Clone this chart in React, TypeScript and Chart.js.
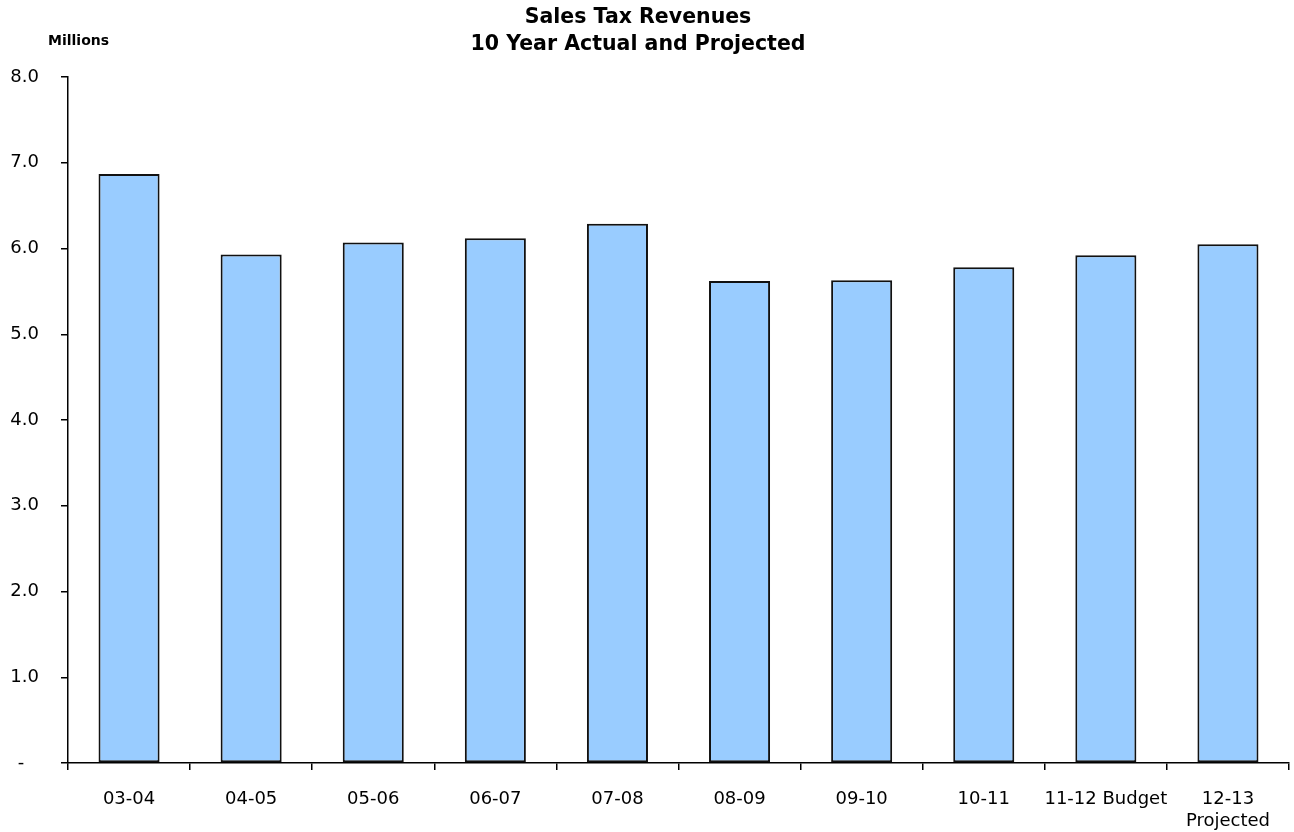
import React, { useEffect, useRef } from "react";
import { Chart, registerables } from "chart.js";

Chart.register(...registerables);

// Fiscal years shown along the bottom axis
const categories: (string | string[])[] = [
  "03-04",
  "04-05",
  "05-06",
  "06-07",
  "07-08",
  "08-09",
  "09-10",
  "10-11",
  "11-12 Budget",
  ["12-13", "Projected"],
];

// Sales tax revenue, in millions
const revenues: number[] = [6.87, 5.93, 6.07, 6.12, 6.29, 5.62, 5.63, 5.78, 5.92, 6.05];

const titleLines: string[] = ["Sales Tax Revenues", "10 Year Actual and Projected"];
const unitLabel = "Millions";

const FONT = "'DejaVu Sans', Verdana, sans-serif";

// Draws the two-line heading and the unit caption above the value axis
const headingPlugin = {
  id: "heading",
  afterDraw(chart: Chart) {
    const ctx = chart.ctx;
    ctx.save();
    ctx.fillStyle = "#000";
    ctx.textAlign = "center";
    ctx.textBaseline = "middle";
    ctx.font = `bold 20.5px ${FONT}`;
    ctx.fillText(titleLines[0], 638, 18);
    ctx.fillText(titleLines[1], 638, 45);
    ctx.textAlign = "left";
    ctx.font = `bold 14px ${FONT}`;
    ctx.fillText(unitLabel, 48, 41);
    ctx.restore();
  },
};

export default function App() {
  const canvasRef = useRef<HTMLCanvasElement | null>(null);

  useEffect(() => {
    const canvas = canvasRef.current;
    if (!canvas) return;
    const chart = new Chart(canvas, {
      type: "bar",
      data: {
        labels: categories,
        datasets: [
          {
            data: revenues,
            backgroundColor: "#99CCFF",
            borderColor: "#111111",
            borderWidth: 2,
            borderSkipped: false,
            barPercentage: 0.5,
            categoryPercentage: 1,
          },
        ],
      },
      options: {
        responsive: false,
        animation: false,
        layout: { padding: { top: 77, right: 5, left: 0, bottom: 0 } },
        plugins: {
          legend: { display: false },
          title: { display: false },
          tooltip: { enabled: false },
        },
        scales: {
          x: {
            offset: true,
            grid: {
              offset: true,
              drawOnChartArea: false,
              drawTicks: true,
              tickLength: 7,
              color: "#000",
              lineWidth: 1.5,
            },
            border: { display: true, color: "#000", width: 1.5 },
            ticks: {
              color: "#000",
              font: { family: FONT, size: 18 },
              padding: 19,
              maxRotation: 0,
              autoSkip: false,
            },
            afterFit(scale: any) {
              scale.height = 69;
            },
          },
          y: {
            min: 0,
            max: 8,
            grid: {
              drawOnChartArea: false,
              drawTicks: true,
              tickLength: 7,
              color: "#000",
              lineWidth: 1.5,
            },
            border: { display: true, color: "#000", width: 1.5 },
            ticks: {
              stepSize: 1,
              color: "#000",
              font: { family: FONT, size: 18 },
              padding: 22,
              callback: (v: any) => (Number(v) === 0 ? "-\u2002 " : Number(v).toFixed(1)),
            },
            afterFit(scale: any) {
              scale.width = 68;
            },
          },
        },
      },
      plugins: [headingPlugin],
    });
    return () => chart.destroy();
  }, []);

  return (
    <div style={{ position: "fixed", left: 0, top: 0, width: 1294, height: 832, background: "#fff" }}>
      <canvas ref={canvasRef} width={1294} height={832} />
    </div>
  );
}
